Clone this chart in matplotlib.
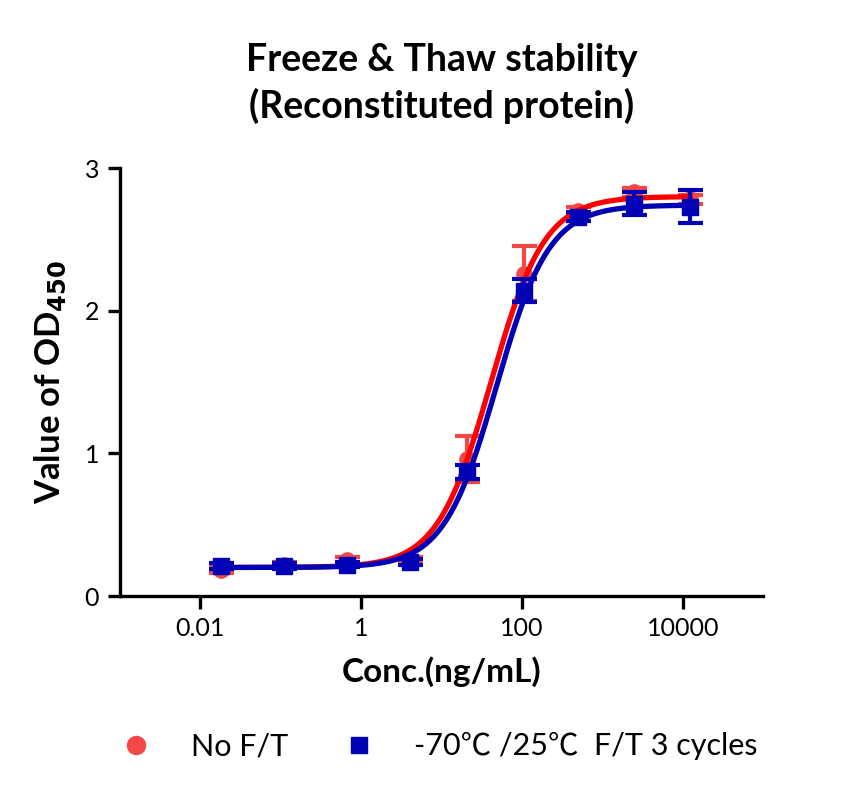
import numpy as np
import matplotlib
matplotlib.use("Agg")
import matplotlib.pyplot as plt
from matplotlib.lines import Line2D

plt.rcParams['font.family'] = ['Lato', 'Noto Sans CJK SC', 'DejaVu Sans']

# concentrations (ng/mL)
conc = [0.018, 0.11, 0.66, 4.0, 20.5, 105, 490, 2450, 12300]

# No F/T
nofT_mean = [0.18, 0.22, 0.25, 0.25, 0.96, 2.26, 2.70, 2.83, 2.78]
nofT_err = [0.02, 0.02, 0.02, 0.02, 0.16, 0.19, 0.03, 0.03, 0.03]

# -70/25 F/T 3 cycles
ft3_mean = [0.21, 0.21, 0.22, 0.24, 0.87, 2.14, 2.66, 2.75, 2.73]
ft3_err = [0.02, 0.02, 0.02, 0.02, 0.05, 0.08, 0.03, 0.08, 0.115]

# 4PL fit parameters: bottom, top, ec50, hill
nofT_fit = (0.20, 2.80, 41.0, 1.30)
ft3_fit = (0.20, 2.74, 48.0, 1.32)

labels = ['No F/T', '-70\u2103 /25\u2103  F/T 3 cycles']
red_line = '#FF0000'
red_pt = '#F24848'
blue = '#0000B4'


def four_pl(x, p):
    b, t, c, h = p
    return b + (t - b) / (1 + (c / x) ** h)


fig = plt.figure(figsize=(8.51, 8.0), dpi=100)
ax = fig.add_axes([0.141, 0.255, 0.756, 0.535])

xs = np.logspace(np.log10(conc[0]), np.log10(conc[-1]), 400)

ax.plot(xs, four_pl(xs, nofT_fit), color=red_line, lw=3.8, zorder=3)
ax.errorbar(conc, nofT_mean, yerr=nofT_err, fmt='o', ms=11, color=red_pt,
            ecolor=red_pt, elinewidth=3, capsize=9, capthick=3, zorder=2)

ax.plot(xs, four_pl(xs, ft3_fit), color=blue, lw=3.8, zorder=4)
ax.errorbar(conc, ft3_mean, yerr=ft3_err, fmt='s', ms=12, color=blue,
            ecolor=blue, elinewidth=3, capsize=9, capthick=3, zorder=5)

ax.set_xscale('log')
ax.set_xlim(1e-3, 1e5)
ax.set_ylim(0, 3)
ax.set_xticks([0.01, 1, 100, 10000])
ax.set_xticklabels(['0.01', '1', '100', '10000'])
ax.minorticks_off()
ax.set_yticks([0, 1, 2, 3])

for s in ['top', 'right']:
    ax.spines[s].set_visible(False)
for s in ['left', 'bottom']:
    ax.spines[s].set_linewidth(2.4)
ax.tick_params(axis='both', width=2.4, length=9, labelsize=18, pad=6)

ax.set_xlabel('Conc.(ng/mL)', fontsize=24, fontweight='bold', labelpad=12)
ax.set_ylabel('Value of OD$_{\\mathbf{450}}$', fontsize=25, fontweight='bold', labelpad=12)
ax.set_title('Freeze & Thaw stability\n(Reconstituted protein)', fontsize=27,
             fontweight='bold', pad=36, linespacing=1.35)

handles = [Line2D([], [], ls='', marker='o', ms=13, color=red_pt),
           Line2D([], [], ls='', marker='s', ms=12, color=blue)]
fig.legend(handles, labels, loc='center', bbox_to_anchor=(0.507, 0.067), ncol=2,
           frameon=False, fontsize=22, handletextpad=0.8, columnspacing=1.3)

fig.savefig('out.png', dpi=100)
